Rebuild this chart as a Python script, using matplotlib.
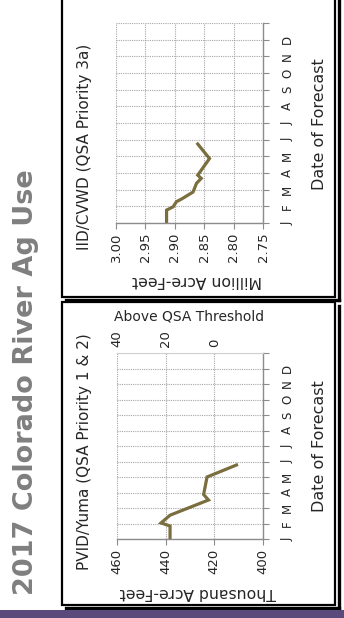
import datetime as dt
import calendar

import matplotlib
matplotlib.use("Agg")
import matplotlib.pyplot as plt
from matplotlib.patches import Rectangle
from matplotlib.lines import Line2D

# ---------------------------------------------------------------- data
month_labels = ["J", "F", "M", "A", "M", "J", "J", "A", "S", "O", "N", "D"]

# PVID/Yuma (QSA Priority 1 & 2), thousand acre-feet
pvid_dates = ["2017-01-01", "2017-01-27", "2017-02-02", "2017-02-16",
              "2017-03-17", "2017-03-28", "2017-05-01", "2017-05-25"]
pvid_values = [438.2, 438.2, 441.9, 438.2, 422.4, 424.4, 423.0, 410.9]
pvid_ticks = [460, 440, 420, 400]
qsa_threshold = 420          # PVID/Yuma QSA threshold, thousand acre-feet
above_ticks = [40, 20, 0]

# IID/CVWD (QSA Priority 3a), million acre-feet
iid_dates = ["2017-01-01", "2017-01-25", "2017-01-31", "2017-02-09",
             "2017-02-13", "2017-02-25", "2017-03-13", "2017-03-22",
             "2017-03-28", "2017-04-27", "2017-05-24"]
iid_values = [2.914, 2.914, 2.903, 2.897, 2.889, 2.869, 2.863, 2.855,
              2.861, 2.841, 2.861]
iid_ticks = [3.00, 2.95, 2.90, 2.85, 2.80, 2.75]

# ---------------------------------------------------------------- style
W, H = 344, 618
LINE_COLOR = "#7a6d3e"
TEXT_COLOR = "#262626"
GRID_COLOR = "#a6a6a6"
AXIS_COLOR = "#8c8c8c"
plt.rcParams["font.family"] = "DejaVu Sans"


def month_position(date_str):
    """Position of a date on a uniform month scale (Jan 1 = 0)."""
    d = dt.date.fromisoformat(date_str)
    days = calendar.monthrange(d.year, d.month)[1]
    return (d.month - 1) + (d.day - 1) / days


def rect_px(x0, y0, x1, y1):
    """Figure-fraction rectangle from a pixel box measured from the top-left."""
    return [x0 / W, 1 - y1 / H, (x1 - x0) / W, (y1 - y0) / H]


def fx(x):
    return x / W


def fy(y):
    return 1 - y / H


fig = plt.figure(figsize=(W / 100, H / 100), dpi=100)
fig.patch.set_facecolor("white")

# panel frames with an offset edge at right and bottom
for (x0, y0, x1, y1) in [(62, -6, 335, 297), (62, 302, 335, 605)]:
    fig.patches.append(Rectangle((fx(x0), fy(y1)), (x1 - x0) / W, (y1 - y0) / H,
                                 transform=fig.transFigure, facecolor="white",
                                 edgecolor="black", linewidth=1.6, zorder=-2))
    fig.lines.append(Line2D([fx(x1 + 4), fx(x1 + 4)], [fy(y0 + 4), fy(y1 + 3)],
                            transform=fig.transFigure, color="black", lw=2.4,
                            zorder=-2))
    fig.lines.append(Line2D([fx(x0 + 4), fx(x1 + 4)], [fy(y1 + 3), fy(y1 + 3)],
                            transform=fig.transFigure, color="black", lw=2.4,
                            zorder=-2))

# purple footer band
fig.patches.append(Rectangle((0, 0), 1, 8 / H, transform=fig.transFigure,
                             facecolor="#5a4a7c", edgecolor="none", zorder=-2))

# main title
fig.text(fx(26), fy(382), "2017 Colorado River Ag Use", rotation=90,
         ha="center", va="center", fontsize=19.5, fontweight="bold",
         color="#7f7f7f")


def style_axes(ax, vticks, vlabels):
    lo, hi = min(vticks), max(vticks)
    ax.set_facecolor("none")
    ax.set_xlim(hi, lo)
    ax.set_ylim(0, 12)
    ax.set_xticks(vticks)
    ax.set_xticklabels(vlabels, rotation=90, fontsize=9.5, color=TEXT_COLOR)
    ax.set_yticks(range(13))
    ax.set_yticklabels(month_labels + [""], rotation=90, fontsize=8.5,
                       color=TEXT_COLOR, va="center")
    ax.yaxis.tick_right()
    ax.tick_params(axis="y", length=4, color=AXIS_COLOR, pad=9)
    ax.tick_params(axis="x", length=4, color=AXIS_COLOR, pad=3)
    ax.grid(True, linestyle=(0, (1, 1)), color=GRID_COLOR, linewidth=0.8)
    ax.set_axisbelow(True)
    for side in ("left", "top"):
        ax.spines[side].set_visible(False)
    for side in ("bottom", "right"):
        ax.spines[side].set_color(AXIS_COLOR)
        ax.spines[side].set_linewidth(1.0)


# ---------------------------------------------------------------- IID/CVWD
ax_top = fig.add_axes(rect_px(116, 23, 263, 223))
ax_top.plot(iid_values, [month_position(d) for d in iid_dates],
            color=LINE_COLOR, linewidth=2.3, solid_joinstyle="miter")
style_axes(ax_top, iid_ticks, [f"{v:.2f}" for v in iid_ticks])

fig.text(fx(84), fy(147), "IID/CVWD (QSA Priority 3a)", rotation=90,
         ha="center", va="center", fontsize=11, color=TEXT_COLOR)
fig.text(fx(197), fy(281), "Million Acre-Feet", rotation=180,
         ha="center", va="center", fontsize=11.3, color=TEXT_COLOR)
fig.text(fx(320), fy(124), "Date of Forecast", rotation=90,
         ha="center", va="center", fontsize=11.5, color=TEXT_COLOR)

# ---------------------------------------------------------------- PVID/Yuma
ax_bot = fig.add_axes(rect_px(117, 353, 263, 539))
ax_bot.plot(pvid_values, [month_position(d) for d in pvid_dates],
            color=LINE_COLOR, linewidth=2.3, solid_joinstyle="miter")
style_axes(ax_bot, pvid_ticks, [str(v) for v in pvid_ticks])
ax_bot.spines["top"].set_visible(True)
ax_bot.spines["top"].set_color("#d0d0d0")

sec = ax_bot.secondary_xaxis("top", functions=(lambda v: v - qsa_threshold,
                                               lambda v: v + qsa_threshold))
sec.set_xticks(above_ticks)
sec.set_xticklabels([str(v) for v in above_ticks], rotation=90, fontsize=9.5,
                    color=TEXT_COLOR)
sec.tick_params(length=0, pad=4)
sec.spines["top"].set_visible(False)

fig.text(fx(84), fy(452), "PVID/Yuma (QSA Priority 1 & 2)", rotation=90,
         ha="center", va="center", fontsize=11, color=TEXT_COLOR)
fig.text(fx(189), fy(316), "Above QSA Threshold",
         ha="center", va="center", fontsize=10, color=TEXT_COLOR)
fig.text(fx(198), fy(592), "Thousand Acre-Feet", rotation=180,
         ha="center", va="center", fontsize=11.3, color=TEXT_COLOR)
fig.text(fx(320), fy(446), "Date of Forecast", rotation=90,
         ha="center", va="center", fontsize=11.5, color=TEXT_COLOR)

fig.savefig("out.png", dpi=100, facecolor="white")
